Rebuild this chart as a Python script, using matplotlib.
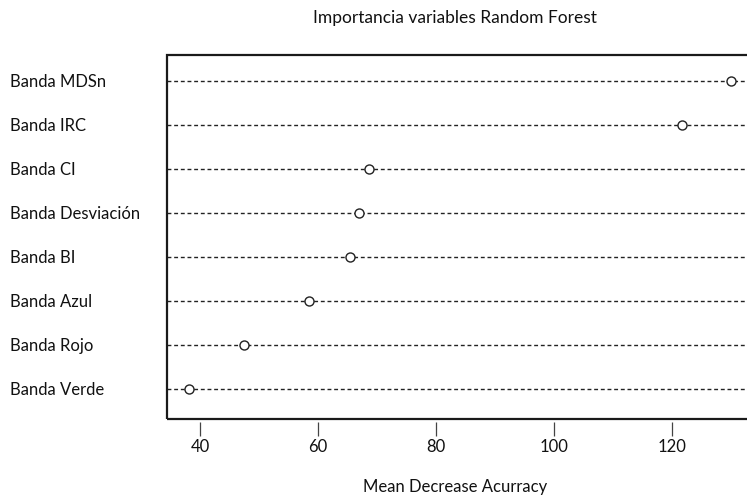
import numpy as np
import matplotlib
matplotlib.use("Agg")
import matplotlib.pyplot as plt
from matplotlib.patches import Rectangle

plt.rcParams['font.family'] = ['Lato', 'DejaVu Sans']

# data, bottom row first (as R dotchart draws it)
variables = ["Banda Verde", "Banda Rojo", "Banda Azul", "Banda BI",
             "Banda Desviación", "Banda CI", "Banda IRC", "Banda MDSn"]
importance = [38.1, 47.5, 58.5, 65.4, 66.9, 68.6, 121.7, 130.0]
xticks = [40, 60, 80, 100, 120]

W, H = 747, 495
fig = plt.figure(figsize=(W / 100, H / 100), dpi=100)
# axes box runs past the right edge of the picture, like in the original
ax = fig.add_axes([167.3 / W, 1 - 419.3 / H, (752.5 - 167.3) / W, (419.3 - 55.3) / H])

rows = np.arange(1, len(variables) + 1)
for r in rows:
    ax.axhline(r, color="#222222", lw=1.0, linestyle=(0, (2.8, 2.0)), zorder=1)
ax.plot(importance, rows, linestyle="none", marker="o", ms=6.5,
        mfc="white", mec="#222222", mew=1.0, zorder=3)

lo, hi = min(importance), max(importance)
pad = 0.04 * (hi - lo)
ax.set_xlim(lo - pad, hi + pad)
ax.set_ylim(0.312, 8.577)

for s in ax.spines.values():
    s.set_visible(False)
ax.add_patch(Rectangle((0, 0), 1, 1, transform=ax.transAxes, fill=False,
                       lw=1.6, edgecolor="#1a1a1a", clip_on=False, zorder=5))
ax.spines["bottom"].set_position(("outward", 2.0))

ax.set_xticks(xticks)
ax.tick_params(axis="x", length=10, width=0.9, color="#444444",
               labelsize=12, pad=2.5, labelcolor="#111111")
ax.set_yticks(rows)
ax.set_yticklabels(variables)
ax.tick_params(axis="y", length=0, pad=113, labelsize=12, labelcolor="#111111")
for t in ax.get_yticklabels():
    t.set_horizontalalignment("left")

fig.text(455 / W, 1 - 18 / H, "Importancia variables Random Forest",
         ha="center", va="center", fontsize=12.5, color="#111111")
fig.text(455 / W, 1 - 487 / H, "Mean Decrease Acurracy",
         ha="center", va="center", fontsize=12, color="#111111")

fig.savefig("out.png", dpi=100)
